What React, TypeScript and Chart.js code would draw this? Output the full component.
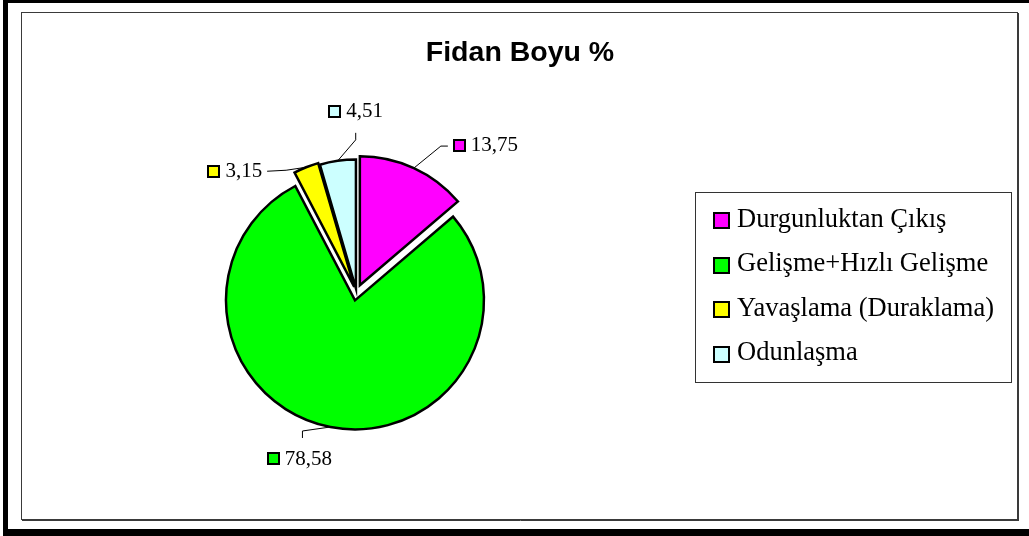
import React, { useEffect, useRef } from "react";
import { Chart, registerables } from "chart.js";

Chart.register(...registerables);

// ---- data ----
const chartTitle = "Fidan Boyu %";
const categories = [
  "Durgunluktan Çıkış",
  "Gelişme+Hızlı Gelişme",
  "Yavaşlama (Duraklama)",
  "Odunlaşma",
];
const values = [13.75, 78.58, 3.15, 4.51];
const sliceColors = ["#FF00FF", "#00FF00", "#FFFF00", "#CCFFFF"];

// ---- styling / placement (not data) ----
const W = 1029;
const H = 536;
const explode = [8, 8, 6, 4];
const pieRadius = 129;
const labelLayout = [
  { elbow: [27, -22], end: [34, -22], side: "right", dx: 0, dy: 0 },
  { elbow: [-28, 4], end: [-28, 11], side: "below", dx: -3, dy: 2 },
  { elbow: [-20, 3], end: [-39, 4], side: "left", dx: 0, dy: 0 },
  { elbow: [18, -21], end: [18, -28], side: "above", dx: 0, dy: -1 },
];
const serif = "'Liberation Serif', 'Times New Roman', serif";
const sans = "'Liberation Sans', Arial, sans-serif";

const fmt = (v: number) => v.toFixed(2).replace(".", ",");

const framePlugin = {
  id: "frame",
  beforeDraw(chart: any) {
    const ctx = chart.ctx;
    ctx.save();
    ctx.fillStyle = "#ffffff";
    ctx.fillRect(0, 0, W, H);
    ctx.fillStyle = "#000000";
    ctx.fillRect(3, 0, W - 3, 3);
    ctx.fillRect(3, 0, 5, H);
    ctx.fillRect(3, 529, W - 3, H - 529);
    ctx.strokeStyle = "#3a3a3a";
    ctx.lineWidth = 1;
    ctx.strokeRect(21.5, 12.5, 996, 507);
    ctx.beginPath();
    ctx.moveTo(1018.5, 13);
    ctx.lineTo(1018.5, 521);
    ctx.moveTo(22, 520.5);
    ctx.lineTo(1019, 520.5);
    ctx.stroke();
    // title
    ctx.fillStyle = "#000";
    ctx.font = `bold 28.5px ${sans}`;
    ctx.textAlign = "center";
    ctx.textBaseline = "alphabetic";
    ctx.fillText(chartTitle, 520, 61);
    ctx.restore();
  },
};

const explodePlugin = {
  id: "explode",
  beforeDatasetsDraw(chart: any) {
    const meta = chart.getDatasetMeta(0);
    const a = chart.chartArea;
    const cx = (a.left + a.right) / 2;
    const cy = (a.top + a.bottom) / 2;
    meta.data.forEach((el: any, i: number) => {
      const mid = (el.startAngle + el.endAngle) / 2;
      el.x = cx + explode[i] * Math.cos(mid);
      el.y = cy + explode[i] * Math.sin(mid);
    });
  },
};

function swatch(ctx: CanvasRenderingContext2D, x: number, y: number, s: number, color: string) {
  ctx.fillStyle = color;
  ctx.fillRect(x, y, s, s);
  ctx.strokeStyle = "#000";
  ctx.lineWidth = 2;
  ctx.strokeRect(x + 1, y + 1, s - 2, s - 2);
}

const labelsPlugin = {
  id: "sliceLabels",
  afterDatasetsDraw(chart: any) {
    const ctx = chart.ctx;
    const meta = chart.getDatasetMeta(0);
    ctx.save();
    ctx.font = `21px ${serif}`;
    ctx.textBaseline = "middle";
    ctx.textAlign = "left";
    meta.data.forEach((el: any, i: number) => {
      const mid = (el.startAngle + el.endAngle) / 2;
      const r = el.outerRadius;
      const ax = el.x + r * Math.cos(mid);
      const ay = el.y + r * Math.sin(mid);
      const L = labelLayout[i];
      const ex = ax + L.end[0];
      const ey = ay + L.end[1];
      ctx.strokeStyle = "#000";
      ctx.lineWidth = 1;
      ctx.beginPath();
      ctx.moveTo(ax, ay);
      ctx.lineTo(ax + L.elbow[0], ay + L.elbow[1]);
      ctx.lineTo(ex, ey);
      ctx.stroke();
      const text = fmt(values[i]);
      const s = 13;
      const gap = 5;
      const tw = ctx.measureText(text).width;
      const total = s + gap + tw;
      let left = 0;
      let my = 0;
      if (L.side === "right") {
        left = ex + 5;
        my = ey - 1;
      } else if (L.side === "left") {
        left = ex - 5 - total;
        my = ey;
      } else if (L.side === "above") {
        left = ex - total / 2;
        my = ey - 20;
      } else {
        left = ex - total / 2;
        my = ey + 19;
      }
      left += L.dx;
      my += L.dy;
      swatch(ctx, Math.round(left), Math.round(my - s / 2), s, sliceColors[i]);
      ctx.fillStyle = "#000";
      ctx.fillText(text, left + s + gap, my);
    });
    ctx.restore();
  },
};

const legendPlugin = {
  id: "boxLegend",
  afterDraw(chart: any) {
    const ctx = chart.ctx;
    ctx.save();
    ctx.fillStyle = "#fff";
    ctx.fillRect(695, 192, 316, 190);
    ctx.strokeStyle = "#333";
    ctx.lineWidth = 1;
    ctx.strokeRect(695.5, 192.5, 316, 190);
    ctx.font = `26.5px ${serif}`;
    ctx.textBaseline = "middle";
    ctx.textAlign = "left";
    categories.forEach((c, i) => {
      const y = 220 + i * 44.5;
      swatch(ctx, 713, Math.round(y - 8), 17, sliceColors[i]);
      ctx.fillStyle = "#000";
      ctx.fillText(c, 737, y);
    });
    ctx.restore();
  },
};

export default function App() {
  const ref = useRef<HTMLCanvasElement | null>(null);
  useEffect(() => {
    if (!ref.current) return;
    const cx = 356.5;
    const cy = 292.5;
    const half = 140;
    const chart = new Chart(ref.current, {
      type: "pie",
      data: {
        labels: categories,
        datasets: [
          {
            data: values,
            backgroundColor: sliceColors,
            borderColor: "#000",
            borderWidth: 2.5,
            borderJoinStyle: "miter",
            clip: false,
          } as any,
        ],
      },
      options: {
        responsive: false,
        animation: false,
        events: [],
        radius: pieRadius,
        layout: {
          padding: {
            left: cx - half,
            right: W - (cx + half),
            top: cy - half,
            bottom: H - (cy + half),
          },
        },
        plugins: {
          legend: { display: false },
          title: { display: false },
          tooltip: { enabled: false },
        },
      } as any,
      plugins: [framePlugin, explodePlugin, labelsPlugin, legendPlugin],
    });
    return () => chart.destroy();
  }, []);
  return (
    <div style={{ position: "fixed", left: 0, top: 0, width: W, height: H, background: "#fff" }}>
      <canvas ref={ref} width={W} height={H} style={{ display: "block" }} />
    </div>
  );
}
